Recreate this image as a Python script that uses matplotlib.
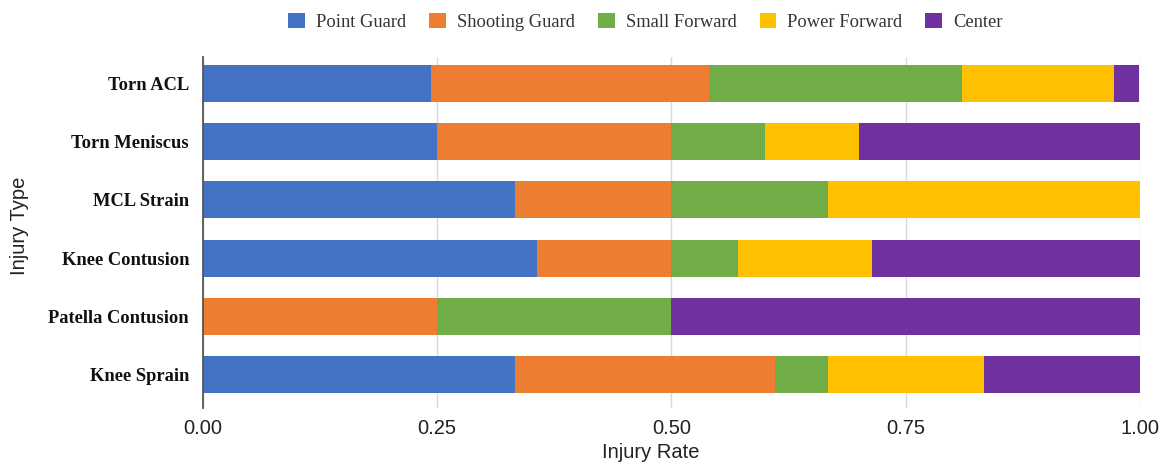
import numpy as np
import matplotlib.pyplot as plt
from matplotlib.patches import Patch

# Share of each knee injury by player position
injuries = ['Torn ACL', 'Torn Meniscus', 'MCL Strain', 'Knee Contusion',
            'Patella Contusion', 'Knee Sprain']
positions = ['Point Guard', 'Shooting Guard', 'Small Forward', 'Power Forward', 'Center']

point_guard = [0.243, 0.25, 0.333, 0.357, 0.0, 0.333]
shooting_guard = [0.297, 0.25, 0.167, 0.143, 0.25, 0.278]
small_forward = [0.270, 0.10, 0.167, 0.071, 0.25, 0.056]
power_forward = [0.162, 0.10, 0.333, 0.143, 0.0, 0.167]
center = [0.027, 0.30, 0.0, 0.286, 0.5, 0.167]

colors = ['#4472C4', '#ED7D31', '#70AD47', '#FFC000', '#7030A0']
series = [point_guard, shooting_guard, small_forward, power_forward, center]

fig = plt.figure(figsize=(11.61, 4.65), dpi=100)
ax = fig.add_axes([0.1748, 0.1226, 0.8071, 0.7548])

y = np.arange(len(injuries))
left = np.zeros(len(injuries))
for vals, col in zip(series, colors):
    vals = np.array(vals)
    ax.barh(y, vals, left=left, height=0.635, color=col, edgecolor='none', zorder=2)
    left += vals

ax.set_xlim(0, 1)
ax.set_ylim(len(injuries) - 1 + 0.576, -0.455)
ax.set_xticks([0, 0.25, 0.5, 0.75, 1.0])
ax.set_xticklabels(['0.00', '0.25', '0.50', '0.75', '1.00'],
                   fontsize=14.5, family='Liberation Sans', color='#222222')
ax.set_yticks(y)
ax.set_yticklabels(injuries, fontsize=13.3, family='Liberation Serif',
                   fontweight='bold', color='#111111')
ax.tick_params(axis='both', length=0)
ax.tick_params(axis='x', pad=8)
ax.tick_params(axis='y', pad=10)

ax.grid(axis='x', color='#d9d9d9', linewidth=1, zorder=0)
for s in ['top', 'right', 'bottom']:
    ax.spines[s].set_visible(False)
ax.spines['left'].set_color('#555555')
ax.spines['left'].set_linewidth(1.3)
ax.spines['left'].set_zorder(3)

ax.set_xlabel('Injury Rate', fontsize=14.5, family='Liberation Sans', color='#222222')
ax.xaxis.set_label_coords((651 - 203) / 937, -0.10)
ax.set_ylabel('Injury Type', fontsize=14.5, family='Liberation Sans', color='#222222')
ax.yaxis.set_label_coords(-0.186, 0.52)

handles = [Patch(facecolor=c, edgecolor='none') for c in colors]
fig.legend(handles, positions, loc='center', bbox_to_anchor=(0.556, 0.953),
           ncol=5, frameon=False, prop={'family': 'Liberation Serif', 'size': 13.3},
           handlelength=0.9, handleheight=0.9, handletextpad=0.6, columnspacing=1.25,
           labelcolor='#333333')

fig.savefig('out.png', dpi=100)
